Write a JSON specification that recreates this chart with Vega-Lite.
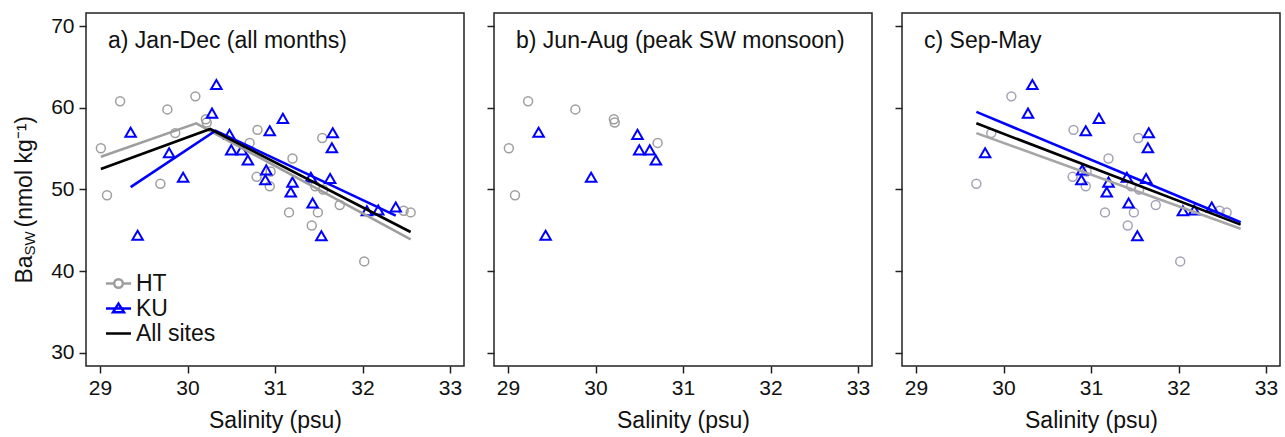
{
  "$schema": "https://vega.github.io/schema/vega-lite/v6.json",
  "background": "white",
  "padding": {"left": 12, "top": 12, "right": 3, "bottom": 2},
  "config": {
    "font": "Liberation Sans",
    "view": {"stroke": "#222222", "strokeWidth": 1.5},
    "point": {"opacity": 1},
    "axis": {"domain": false, "grid": false, "tickColor": "#222222", "tickWidth": 1.5, "tickSize": 7,
      "labelFont": "Liberation Sans", "labelFontSize": 21, "labelColor": "#111111",
      "titleFont": "Liberation Sans", "titleFontSize": 23, "titleFontWeight": "normal", "titleColor": "#111111"},
    "concat": {"spacing": 20}
  },
  "datasets": {
    "pts": [
      {"site": "HT", "season": "JJA", "sal": 29.01, "ba": 55.05},
      {"site": "HT", "season": "JJA", "sal": 29.08, "ba": 49.3},
      {"site": "HT", "season": "JJA", "sal": 29.23, "ba": 60.8},
      {"site": "HT", "season": "JJA", "sal": 29.77, "ba": 59.8},
      {"site": "HT", "season": "JJA", "sal": 30.21, "ba": 58.6},
      {"site": "HT", "season": "JJA", "sal": 30.22, "ba": 58.2},
      {"site": "HT", "season": "JJA", "sal": 30.71, "ba": 55.7},
      {"site": "HT", "season": "SM", "sal": 29.69, "ba": 50.7},
      {"site": "HT", "season": "SM", "sal": 29.86, "ba": 56.9},
      {"site": "HT", "season": "SM", "sal": 30.09, "ba": 61.4},
      {"site": "HT", "season": "SM", "sal": 30.8, "ba": 57.3},
      {"site": "HT", "season": "SM", "sal": 30.79, "ba": 51.55},
      {"site": "HT", "season": "SM", "sal": 30.95, "ba": 52.2},
      {"site": "HT", "season": "SM", "sal": 30.94, "ba": 50.4},
      {"site": "HT", "season": "SM", "sal": 31.2, "ba": 53.8},
      {"site": "HT", "season": "SM", "sal": 31.16, "ba": 47.2},
      {"site": "HT", "season": "SM", "sal": 31.42, "ba": 45.6},
      {"site": "HT", "season": "SM", "sal": 31.46, "ba": 50.4},
      {"site": "HT", "season": "SM", "sal": 31.49, "ba": 47.2},
      {"site": "HT", "season": "SM", "sal": 31.55, "ba": 50.0},
      {"site": "HT", "season": "SM", "sal": 31.54, "ba": 56.3},
      {"site": "HT", "season": "SM", "sal": 31.74, "ba": 48.1},
      {"site": "HT", "season": "SM", "sal": 32.02, "ba": 41.2},
      {"site": "HT", "season": "SM", "sal": 32.47, "ba": 47.4},
      {"site": "HT", "season": "SM", "sal": 32.55, "ba": 47.2},
      {"site": "KU", "season": "JJA", "sal": 29.35, "ba": 57.0},
      {"site": "KU", "season": "JJA", "sal": 29.43, "ba": 44.4},
      {"site": "KU", "season": "JJA", "sal": 29.95, "ba": 51.5},
      {"site": "KU", "season": "JJA", "sal": 30.48, "ba": 56.75},
      {"site": "KU", "season": "JJA", "sal": 30.5, "ba": 54.85},
      {"site": "KU", "season": "JJA", "sal": 30.62, "ba": 54.85},
      {"site": "KU", "season": "JJA", "sal": 30.69, "ba": 53.6},
      {"site": "KU", "season": "SM", "sal": 29.79, "ba": 54.5},
      {"site": "KU", "season": "SM", "sal": 30.28, "ba": 59.35},
      {"site": "KU", "season": "SM", "sal": 30.33, "ba": 62.85},
      {"site": "KU", "season": "SM", "sal": 30.89, "ba": 51.2},
      {"site": "KU", "season": "SM", "sal": 30.9, "ba": 52.4},
      {"site": "KU", "season": "SM", "sal": 30.94, "ba": 57.2},
      {"site": "KU", "season": "SM", "sal": 31.09, "ba": 58.7},
      {"site": "KU", "season": "SM", "sal": 31.18, "ba": 49.7},
      {"site": "KU", "season": "SM", "sal": 31.2, "ba": 50.9},
      {"site": "KU", "season": "SM", "sal": 31.41, "ba": 51.5},
      {"site": "KU", "season": "SM", "sal": 31.43, "ba": 48.35},
      {"site": "KU", "season": "SM", "sal": 31.53, "ba": 44.35},
      {"site": "KU", "season": "SM", "sal": 31.63, "ba": 51.35},
      {"site": "KU", "season": "SM", "sal": 31.65, "ba": 55.1},
      {"site": "KU", "season": "SM", "sal": 31.66, "ba": 56.95},
      {"site": "KU", "season": "SM", "sal": 32.05, "ba": 47.4},
      {"site": "KU", "season": "SM", "sal": 32.18, "ba": 47.5},
      {"site": "KU", "season": "SM", "sal": 32.38, "ba": 47.85}
    ],
    "fits": [
      {"panel": "a", "site": "HT", "sal": 29.01, "ba": 54.0},
      {"panel": "a", "site": "HT", "sal": 30.1, "ba": 58.1},
      {"panel": "a", "site": "HT", "sal": 30.22, "ba": 57.4},
      {"panel": "a", "site": "HT", "sal": 32.55, "ba": 43.9},
      {"panel": "a", "site": "KU", "sal": 29.35, "ba": 50.3},
      {"panel": "a", "site": "KU", "sal": 30.32, "ba": 57.2},
      {"panel": "a", "site": "KU", "sal": 32.38, "ba": 46.8},
      {"panel": "a", "site": "All sites", "sal": 29.01, "ba": 52.5},
      {"panel": "a", "site": "All sites", "sal": 30.26, "ba": 57.4},
      {"panel": "a", "site": "All sites", "sal": 32.55, "ba": 44.8},
      {"panel": "c", "site": "HT", "sal": 29.69, "ba": 56.9},
      {"panel": "c", "site": "HT", "sal": 32.71, "ba": 45.2},
      {"panel": "c", "site": "KU", "sal": 29.69, "ba": 59.5},
      {"panel": "c", "site": "KU", "sal": 32.71, "ba": 46.0},
      {"panel": "c", "site": "All sites", "sal": 29.69, "ba": 58.1},
      {"panel": "c", "site": "All sites", "sal": 32.71, "ba": 45.7}
    ]
  },
  "hconcat": [
    {
      "width": 378, "height": 353,
      "title": {"text": "a) Jan-Dec (all months)", "anchor": "start", "frame": "group", "offset": -58, "dx": 22, "fontSize": 23, "fontWeight": "normal", "color": "#111111", "baseline": "alphabetic"},
      "layer": [
        {
          "data": {"name": "pts"},
          "mark": {"type": "point", "filled": false, "opacity": 1},
          "encoding": {
            "x": {"field": "sal", "type": "quantitative", "scale": {"domain": [28.84, 33.16], "nice": false, "zero": false}, "axis": {"values": [29, 30, 31, 32, 33], "format": "d", "title": "Salinity (psu)", "labelPadding": 4, "titlePadding": 11, "labelAngle": 0}},
            "y": {"field": "ba", "type": "quantitative", "scale": {"domain": [28.4, 71.6], "nice": false, "zero": false}, "axis": {"orient": "left", "values": [30, 40, 50, 60, 70], "format": "d", "labelPadding": 5, "title": "Ba", "titleX": -55, "titleY": 270, "titleAngle": -90, "titleAlign": "left", "titleBaseline": "alphabetic"}},
            "color": {"field": "site", "type": "nominal", "scale": {"domain": ["HT", "KU", "All sites"], "range": ["#9e9e9e", "#0000ff", "#000000"]},
              "legend": {"orient": "bottom-left", "offset": 20, "title": null, "padding": 0, "labelFontSize": 23, "labelFont": "Liberation Sans", "labelColor": "#111111", "symbolSize": 484, "symbolStrokeWidth": 2.5, "rowPadding": 0, "labelOffset": 5,
                "encode": {"symbols": {"update": {"shape": {"signal": "datum.value === 'HT' ? 'M-1.14,0H-0.39M0.39,0H1.14M0.39,0A0.39,0.39,0,1,1,-0.39,0A0.39,0.39,0,1,1,0.39,0' : datum.value === 'KU' ? 'M-1.14,0H1.14M0,-0.45L0.5,0.35L-0.5,0.35Z' : 'M-1.14,0H1.14'"}, "fill": {"value": "transparent"}, "strokeWidth": {"value": 2.5}}}}}},
            "shape": {"field": "site", "type": "nominal", "scale": {"domain": ["HT", "KU"], "range": ["circle", "triangle-up"]}, "legend": null},
            "size": {"field": "site", "type": "nominal", "scale": {"domain": ["HT", "KU"], "range": [80, 110]}, "legend": null},
            "strokeWidth": {"field": "site", "type": "nominal", "scale": {"domain": ["HT", "KU"], "range": [1.5, 2]}, "legend": null}
          }
        },
        {
          "data": {"name": "fits"},
          "transform": [{"filter": "datum.panel === 'a'"}],
          "mark": {"type": "line", "strokeWidth": 2.6},
          "encoding": {
            "x": {"field": "sal", "type": "quantitative"},
            "y": {"field": "ba", "type": "quantitative", "axis": {"orient": "left", "labels": false, "ticks": false, "title": "(nmol kg⁻¹)", "titleX": -55, "titleY": 214, "titleAngle": -90, "titleAlign": "left", "titleBaseline": "alphabetic"}},
            "color": {"field": "site", "type": "nominal", "scale": {"domain": ["HT", "KU", "All sites"], "range": ["#a6a6a6", "#0000ff", "#000000"]},
              "legend": {"orient": "bottom-left", "offset": 20, "title": null, "padding": 0, "labelFontSize": 23, "labelFont": "Liberation Sans", "labelColor": "#111111", "symbolSize": 484, "symbolStrokeWidth": 2.5, "rowPadding": 0, "labelOffset": 5,
                "encode": {"symbols": {"update": {"shape": {"signal": "datum.value === 'HT' ? 'M-1.14,0H-0.39M0.39,0H1.14M0.39,0A0.39,0.39,0,1,1,-0.39,0A0.39,0.39,0,1,1,0.39,0' : datum.value === 'KU' ? 'M-1.14,0H1.14M0,-0.45L0.5,0.35L-0.5,0.35Z' : 'M-1.14,0H1.14'"}, "fill": {"value": "transparent"}, "strokeWidth": {"value": 2.5}}}}}}
          }
        },
        {
          "data": {"name": "fits"},
          "transform": [{"filter": "datum.panel === 'a'"}],
          "mark": {"type": "line", "opacity": 0},
          "encoding": {
            "x": {"field": "sal", "type": "quantitative"},
            "y": {"field": "ba", "type": "quantitative", "axis": {"orient": "left", "labels": false, "ticks": false, "title": "SW", "titleFontSize": 15, "titleX": -52, "titleY": 242, "titleAngle": -90, "titleAlign": "left", "titleBaseline": "alphabetic"}},
            "detail": {"field": "site"}
          }
        }
      ],
      "resolve": {"axis": {"y": "independent"}}
    },
    {
      "width": 378, "height": 353,
      "title": {"text": "b) Jun-Aug (peak SW monsoon)", "anchor": "start", "frame": "group", "offset": -58, "dx": 22, "fontSize": 23, "fontWeight": "normal", "color": "#111111", "baseline": "alphabetic"},
      "data": {"name": "pts"},
      "transform": [{"filter": "datum.season === 'JJA'"}],
      "mark": {"type": "point", "filled": false, "opacity": 1},
      "encoding": {
        "x": {"field": "sal", "type": "quantitative", "scale": {"domain": [28.84, 33.16], "nice": false, "zero": false}, "axis": {"values": [29, 30, 31, 32, 33], "format": "d", "title": "Salinity (psu)", "labelPadding": 4, "titlePadding": 11, "labelAngle": 0}},
        "y": {"field": "ba", "type": "quantitative", "scale": {"domain": [28.4, 71.6], "nice": false, "zero": false}, "axis": {"values": [30, 40, 50, 60, 70], "labels": false, "title": null}},
        "color": {"field": "site", "type": "nominal", "scale": {"domain": ["HT", "KU"], "range": ["#9e9e9e", "#0000ff"]}, "legend": null},
        "shape": {"field": "site", "type": "nominal", "scale": {"domain": ["HT", "KU"], "range": ["circle", "triangle-up"]}, "legend": null},
        "size": {"field": "site", "type": "nominal", "scale": {"domain": ["HT", "KU"], "range": [80, 110]}, "legend": null},
        "strokeWidth": {"field": "site", "type": "nominal", "scale": {"domain": ["HT", "KU"], "range": [1.5, 2]}, "legend": null}
      }
    },
    {
      "width": 378, "height": 353,
      "title": {"text": "c) Sep-May", "anchor": "start", "frame": "group", "offset": -58, "dx": 22, "fontSize": 23, "fontWeight": "normal", "color": "#111111", "baseline": "alphabetic"},
      "layer": [
        {
          "data": {"name": "pts"},
          "transform": [{"filter": "datum.season === 'SM'"}],
          "mark": {"type": "point", "filled": false, "opacity": 1},
          "encoding": {
            "x": {"field": "sal", "type": "quantitative", "scale": {"domain": [28.84, 33.16], "nice": false, "zero": false}, "axis": {"values": [29, 30, 31, 32, 33], "format": "d", "title": "Salinity (psu)", "labelPadding": 4, "titlePadding": 11, "labelAngle": 0}},
            "y": {"field": "ba", "type": "quantitative", "scale": {"domain": [28.4, 71.6], "nice": false, "zero": false}, "axis": {"values": [30, 40, 50, 60, 70], "labels": false, "title": null}},
            "color": {"field": "site", "type": "nominal", "scale": {"domain": ["HT", "KU"], "range": ["#a3a3b8", "#0000ff"]}, "legend": null},
            "shape": {"field": "site", "type": "nominal", "scale": {"domain": ["HT", "KU"], "range": ["circle", "triangle-up"]}, "legend": null},
            "size": {"field": "site", "type": "nominal", "scale": {"domain": ["HT", "KU"], "range": [80, 110]}, "legend": null},
            "strokeWidth": {"field": "site", "type": "nominal", "scale": {"domain": ["HT", "KU"], "range": [1.5, 2]}, "legend": null}
          }
        },
        {
          "data": {"name": "fits"},
          "transform": [{"filter": "datum.panel === 'c'"}],
          "mark": {"type": "line", "strokeWidth": 2.6},
          "encoding": {
            "x": {"field": "sal", "type": "quantitative"},
            "y": {"field": "ba", "type": "quantitative"},
            "color": {"field": "site", "type": "nominal", "scale": {"domain": ["HT", "KU", "All sites"], "range": ["#a6a6a6", "#0000ff", "#000000"]}, "legend": null}
          }
        }
      ],
      "resolve": {"scale": {"color": "independent"}}
    }
  ],
  "resolve": {"scale": {"color": "independent", "shape": "independent", "size": "independent", "strokeWidth": "independent"}, "legend": {"color": "independent"}}
}
